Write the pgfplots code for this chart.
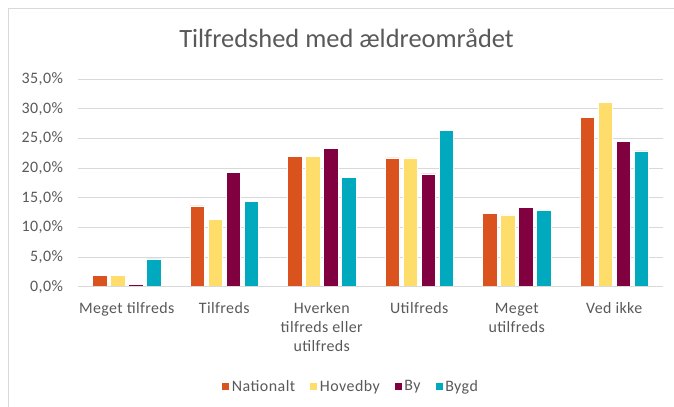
\documentclass[border=0pt]{standalone}
\usepackage{fontspec}
\setmainfont{Carlito}
\usepackage{pgfplots}
\pgfplotsset{compat=1.18}
\definecolor{nat}{HTML}{DA531F}
\definecolor{hov}{HTML}{FFDD6B}
\definecolor{by}{HTML}{800040}
\definecolor{bygd}{HTML}{00A9BD}
\definecolor{txt}{HTML}{595959}
\definecolor{gridc}{HTML}{D9D9D9}

\begin{document}
\begin{tikzpicture}
\useasboundingbox (0,0) rectangle (674bp,407bp);
\fill[white] (0,0) rectangle (674bp,407bp);
\draw[gridc,line width=1bp] (8bp,0) -- (8bp,398bp) -- (674bp,398bp);
\node[anchor=base,text=txt,font=\fontsize{26.5}{30}\selectfont] at (346.5bp,359.7bp) {Tilfredshed med ældreområdet};
\begin{axis}[
  at={(78bp,120.3bp)},anchor=south west,
  scale only axis,width=585bp,height=207.7bp,
  ybar=3.5bp,bar width=14.5bp,
  xmin=-0.5,xmax=5.5,ymin=0,ymax=35,
  xtick={0,1,2,3,4,5},
  xticklabels={Meget tilfreds,Tilfreds,{Hverken\\tilfreds eller\\utilfreds},Utilfreds,{Meget\\utilfreds},Ved ikke},
  ytick={0,5,10,15,20,25,30,35},
  yticklabels={{0,0\%},{5,0\%},{10,0\%},{15,0\%},{20,0\%},{25,0\%},{30,0\%},{35,0\%}},
  major tick length=0pt,
  axis line style={draw=none},
  ymajorgrids,grid style={gridc,line width=1bp},
  xticklabel style={anchor=north,inner sep=0pt,yshift=-16bp,align=center,text=txt,
    font=\fontsize{16}{19}\selectfont\addfontfeature{LetterSpace=2.5}},
  yticklabel style={anchor=east,inner sep=0pt,xshift=-14.7bp,text=txt,
    font=\fontsize{16}{18}\selectfont\addfontfeature{LetterSpace=3}},
  legend columns=4,
  legend style={draw=none,fill=none,at={(0.466,-0.481)},anchor=center,
    font=\fontsize{16}{18}\selectfont\addfontfeature{LetterSpace=3},text=txt,
    /tikz/every even column/.append style={column sep=12bp}},
  legend image code/.code={\fill[#1] (-3bp,-4bp) rectangle (5bp,4bp);},
]
\addplot[fill=nat,draw=white,line width=0.6bp] coordinates {(0,1.9) (1,13.6) (2,21.9) (3,21.7) (4,12.4) (5,28.5)};
\addplot[fill=hov,draw=white,line width=0.6bp] coordinates {(0,1.9) (1,11.3) (2,21.9) (3,21.7) (4,12.1) (5,31.0)};
\addplot[fill=by,draw=white,line width=0.6bp] coordinates {(0,0.4) (1,19.2) (2,23.3) (3,19.0) (4,13.3) (5,24.5)};
\addplot[fill=bygd,draw=white,line width=0.6bp] coordinates {(0,4.7) (1,14.4) (2,18.4) (3,26.3) (4,12.9) (5,22.9)};
\draw[gridc,line width=1bp] (axis cs:-0.5,0) -- (axis cs:5.5,0);
\legend{Nationalt,Hovedby,By,Bygd}
\end{axis}
\end{tikzpicture}
\end{document}
